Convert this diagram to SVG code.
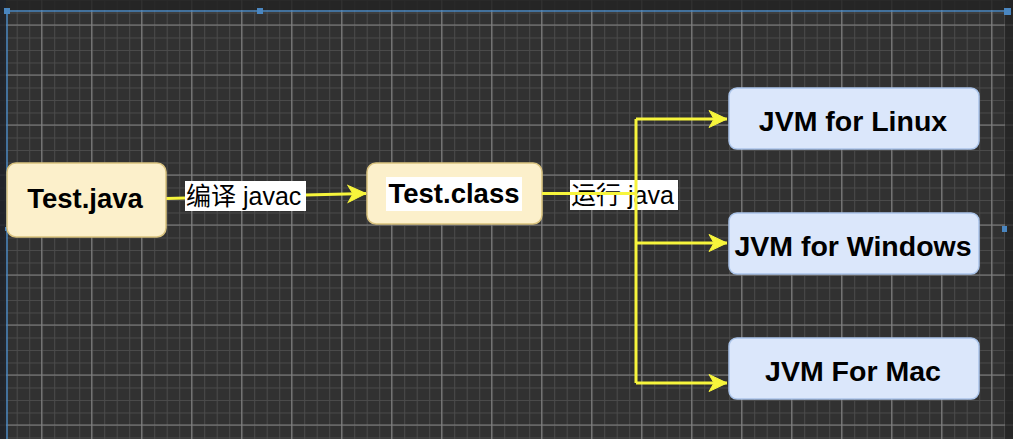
<svg xmlns="http://www.w3.org/2000/svg" width="1013" height="439" viewBox="0 0 1013 439">
  <defs>
    <pattern id="minor" x="4.2" y="0" width="12.5" height="12.5" patternUnits="userSpaceOnUse">
      <path d="M0.5 0V12.5M0 0.5H12.5" stroke="#4b4b4b" stroke-width="1" fill="none"/>
    </pattern>
    <pattern id="major" x="41.2" y="24.5" width="50" height="50" patternUnits="userSpaceOnUse">
      <path d="M0.5 0V50M0 0.5H50" stroke="#828282" stroke-width="1.2" fill="none"/>
    </pattern>
    <marker id="arr" markerUnits="userSpaceOnUse" markerWidth="20" markerHeight="20" viewBox="-19 -9 20 18" refX="0" refY="0" orient="auto">
      <path d="M0 0L-18 -8.5L-13 0L-18 8.5Z" fill="#f7f53c" stroke="#f7f53c" stroke-width="1" stroke-linejoin="miter"/>
    </marker>
    <style>
      .edge{stroke:#f7f53c;stroke-width:3;fill:none}
      .yel{fill:#fcf0cb;stroke:#d9c27e;stroke-width:1.5}
      .blu{fill:#dbe7fb;stroke:#aac4ea;stroke-width:1.5}
      .nt{font-family:"Liberation Sans",Arial,sans-serif;font-weight:bold;fill:#000;text-anchor:middle}
      .lbl{font-family:"Liberation Sans","Noto Sans CJK SC",sans-serif;font-size:25px;fill:#000}
      .lblbg{fill:#ffffff}
      .sel{stroke:#4a86c0;stroke-width:1.5;fill:none}
      .hdl{fill:#4a86c0}
    </style>
  </defs>

  <!-- background and grid -->
  <rect x="0" y="0" width="1013" height="439" fill="#313131"/>
  <rect x="0" y="0" width="1013" height="439" fill="url(#minor)"/>
  <rect x="0" y="0" width="1013" height="439" fill="url(#major)"/>
  <rect x="0" y="0" width="1013" height="10" fill="#232323" opacity="0.85"/>
  <rect x="0" y="0" width="6" height="439" fill="#1e2229" opacity="0.85"/>
  <rect x="1005" y="0" width="8" height="439" fill="#222" opacity="0.7"/>

  <!-- selection frame -->
  <g id="selection">
    <path class="sel" d="M7 439V11H1008"/>
    <rect class="hdl" x="4" y="8" width="6" height="6"/>
    <rect class="hdl" x="257" y="8" width="6" height="6"/>
    <rect class="hdl" x="1004" y="8" width="7" height="7"/>
    <rect class="hdl" x="1002" y="226" width="5" height="6"/>
    <rect class="hdl" x="5" y="227" width="4" height="4"/>
  </g>

  <!-- edge 1 -->
  <g id="connectors">
    <path class="edge" d="M166 198.5L366 193.5" marker-end="url(#arr)"/>
  </g>

  <!-- nodes -->
  <g id="node-test-java">
    <rect class="yel" x="7" y="163" width="159" height="74" rx="9"/>
    <text class="nt" x="85" y="208" font-size="27.5">Test.java</text>
  </g>

  <g id="node-test-class">
    <rect class="yel" x="367" y="163" width="175" height="61" rx="9"/>
    <rect fill="#ffffff" x="386" y="177" width="136" height="34"/>
    <text class="nt" x="454" y="203" font-size="27.5">Test.class</text>
  </g>

  <g id="node-jvm-linux">
    <rect class="blu" x="729" y="88" width="250" height="61" rx="8"/>
    <text class="nt" x="853" y="131" font-size="28.5">JVM for Linux</text>
  </g>

  <g id="node-jvm-windows">
    <rect class="blu" x="729" y="213" width="250" height="61" rx="8"/>
    <text class="nt" x="853" y="256" font-size="28.5">JVM for Windows</text>
  </g>

  <g id="node-jvm-mac">
    <rect class="blu" x="729" y="338" width="250" height="61" rx="8"/>
    <text class="nt" x="853" y="381" font-size="28.5">JVM For Mac</text>
  </g>

  <!-- edge labels -->
  <g id="label-javac">
    <rect class="lblbg" x="185" y="181" width="121" height="30"/>
    <text class="lbl" x="186" y="205">编译 javac</text>
  </g>
  <g id="label-java">
    <rect class="lblbg" x="570" y="180" width="108" height="30"/>
    <text class="lbl" x="571" y="204">运行 java</text>
  </g>

  <!-- edge 2 (drawn over its label) -->
  <g id="connectors-run">
    <path class="edge" d="M542 193.5H636"/>
    <path class="edge" d="M636 119V383"/>
    <path class="edge" d="M636 119H727" marker-end="url(#arr)"/>
    <path class="edge" d="M636 243H727" marker-end="url(#arr)"/>
    <path class="edge" d="M636 383H727" marker-end="url(#arr)"/>
  </g>
</svg>
